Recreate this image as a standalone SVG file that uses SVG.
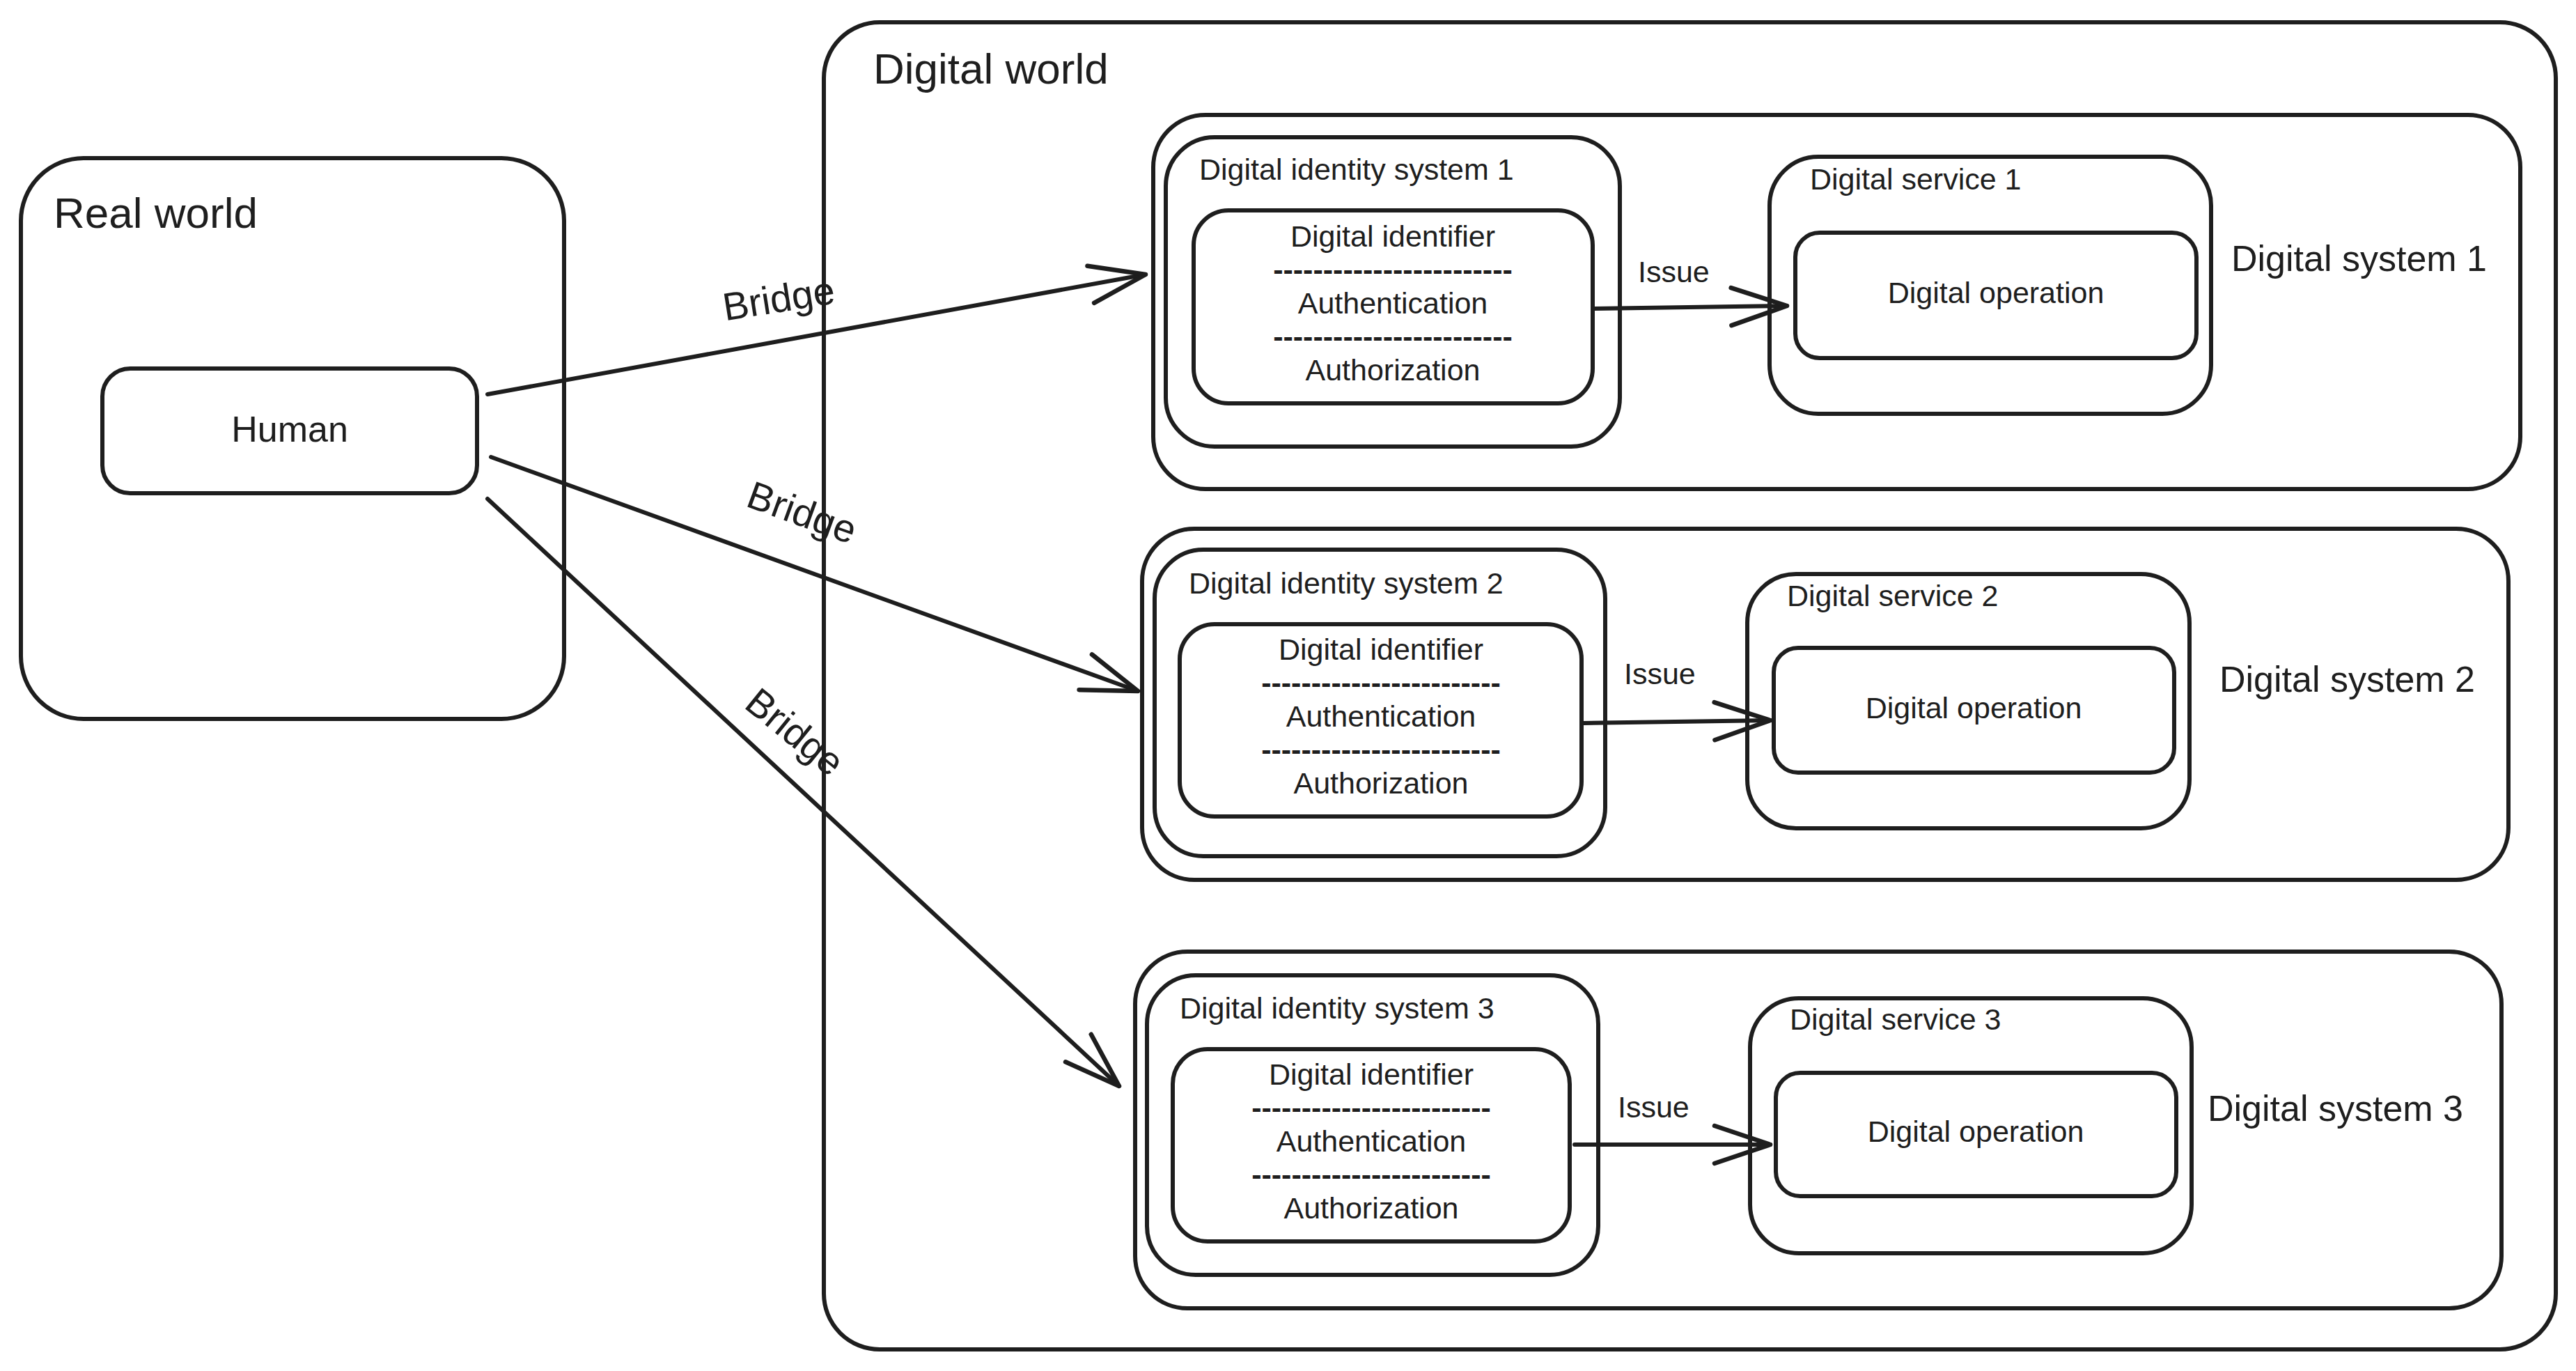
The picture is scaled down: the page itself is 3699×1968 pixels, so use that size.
<svg xmlns="http://www.w3.org/2000/svg" width="3699" height="1968" viewBox="0 0 3699 1968">
<style>
.box{fill:none;stroke:#1e1e1e;stroke-width:6;stroke-linejoin:round}
.t{font-family:"Liberation Sans",Arial,sans-serif;fill:#1e1e1e}
.s{font-size:43px}
.m{text-anchor:middle}
.d{font-weight:700}
.edge{fill:none;stroke:#1e1e1e;stroke-width:6;stroke-linecap:round;marker-end:url(#ah)}
</style>
<defs>
<marker id="ah" markerUnits="userSpaceOnUse" orient="auto" overflow="visible" refX="0" refY="0">
<path d="M -80 -27 L 0 0 L -80 27" fill="none" stroke="#1e1e1e" stroke-width="6.5" stroke-linecap="round" stroke-linejoin="round"/>
</marker>
</defs>
<rect width="3699" height="1968" fill="#ffffff"/>

<g id="real-world">
<rect class="box" x="30" y="227" width="780" height="805" rx="90"/>
<text class="t" x="77" y="327" font-size="62">Real world</text>
</g>
<g id="human">
<rect class="box" x="147" y="529" width="538" height="179" rx="40"/>
<text class="t m" x="416" y="634" font-size="52">Human</text>
</g>

<g id="digital-world">
<rect class="box" x="1183" y="32" width="2487" height="1905" rx="80"/>
<text class="t" x="1254" y="120" font-size="62">Digital world</text>
</g>

<g id="digital-system-1">
<rect class="box" x="1656" y="165" width="1963" height="537" rx="75"/>
<text class="t" x="3204" y="389" font-size="52">Digital system 1</text>
</g>
<g id="digital-identity-system-1">
<rect class="box" x="1674" y="197" width="652" height="444" rx="70"/>
<text class="t s" x="1722" y="258">Digital identity system 1</text>
</g>
<g id="digital-identifier-1">
<rect class="box" x="1714" y="302" width="573" height="277" rx="50"/>
<text class="t s m" x="2000" y="354">Digital identifier</text>
<text class="t s m d" x="2000" y="402">------------------------</text>
<text class="t s m" x="2000" y="450">Authentication</text>
<text class="t s m d" x="2000" y="498">------------------------</text>
<text class="t s m" x="2000" y="546">Authorization</text>
</g>
<g id="digital-service-1">
<rect class="box" x="2541" y="225" width="634" height="369" rx="70"/>
<text class="t s" x="2599" y="272">Digital service 1</text>
</g>
<g id="digital-operation-1">
<rect class="box" x="2578" y="334" width="576" height="180" rx="35"/>
<text class="t s m" x="2866" y="435">Digital operation</text>
</g>

<g id="digital-system-2">
<rect class="box" x="1640" y="759" width="1962" height="504" rx="75"/>
<text class="t" x="3187" y="993" font-size="52">Digital system 2</text>
</g>
<g id="digital-identity-system-2">
<rect class="box" x="1658" y="789" width="647" height="440" rx="70"/>
<text class="t s" x="1707" y="852">Digital identity system 2</text>
</g>
<g id="digital-identifier-2">
<rect class="box" x="1694" y="896" width="577" height="276" rx="50"/>
<text class="t s m" x="1983" y="947">Digital identifier</text>
<text class="t s m d" x="1983" y="995">------------------------</text>
<text class="t s m" x="1983" y="1043">Authentication</text>
<text class="t s m d" x="1983" y="1091">------------------------</text>
<text class="t s m" x="1983" y="1139">Authorization</text>
</g>
<g id="digital-service-2">
<rect class="box" x="2509" y="824" width="635" height="365" rx="70"/>
<text class="t s" x="2566" y="870">Digital service 2</text>
</g>
<g id="digital-operation-2">
<rect class="box" x="2547" y="930" width="575" height="179" rx="35"/>
<text class="t s m" x="2834" y="1031">Digital operation</text>
</g>

<g id="digital-system-3">
<rect class="box" x="1630" y="1366" width="1962" height="512" rx="75"/>
<text class="t" x="3170" y="1609" font-size="52">Digital system 3</text>
</g>
<g id="digital-identity-system-3">
<rect class="box" x="1647" y="1400" width="648" height="430" rx="70"/>
<text class="t s" x="1694" y="1462">Digital identity system 3</text>
</g>
<g id="digital-identifier-3">
<rect class="box" x="1684" y="1506" width="570" height="276" rx="50"/>
<text class="t s m" x="1969" y="1557">Digital identifier</text>
<text class="t s m d" x="1969" y="1605">------------------------</text>
<text class="t s m" x="1969" y="1653">Authentication</text>
<text class="t s m d" x="1969" y="1701">------------------------</text>
<text class="t s m" x="1969" y="1749">Authorization</text>
</g>
<g id="digital-service-3">
<rect class="box" x="2513" y="1433" width="634" height="366" rx="70"/>
<text class="t s" x="2570" y="1478">Digital service 3</text>
</g>
<g id="digital-operation-3">
<rect class="box" x="2550" y="1540" width="575" height="177" rx="35"/>
<text class="t s m" x="2837" y="1639">Digital operation</text>
</g>

<g id="connectors">
<path class="edge" d="M 700 566 L 1645 394"/>
<path class="edge" d="M 705 656 L 1634 992"/>
<path class="edge" d="M 700 716 L 1607 1559"/>
<text class="t m" font-size="56" transform="translate(1118 428) rotate(-9)" y="20">Bridge</text>
<text class="t m" font-size="56" transform="translate(1152 735) rotate(20)" y="20">Bridge</text>
<text class="t m" font-size="56" transform="translate(1142 1050) rotate(39)" y="20">Bridge</text>
<path class="edge" d="M 2290 443 L 2566 439"/>
<path class="edge" d="M 2274 1038 L 2542 1034"/>
<path class="edge" d="M 2261 1643 L 2542 1643"/>
<text class="t s" x="2352" y="405">Issue</text>
<text class="t s" x="2332" y="982">Issue</text>
<text class="t s" x="2323" y="1604">Issue</text>
</g>
</svg>
